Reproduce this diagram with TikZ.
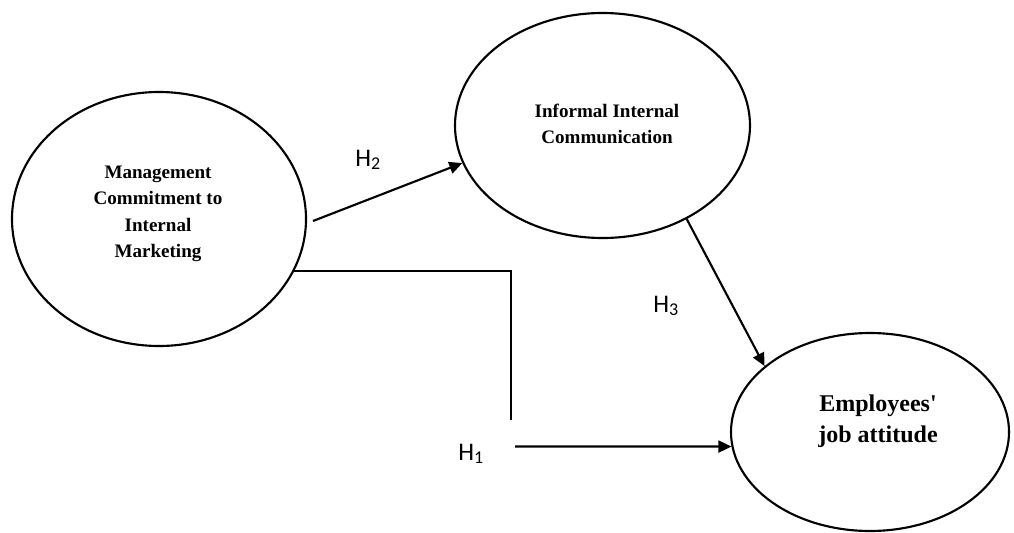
\documentclass[tikz,border=0pt]{standalone}
\usepackage{fontspec}
\setmainfont{Liberation Serif}
\newfontfamily\hfont{Carlito}
\usetikzlibrary{shapes.geometric,arrows.meta}
\newcommand\hyplabel[1]{H\raisebox{-2.5pt}{\fontsize{13.5}{13.5}\selectfont #1}}
\begin{document}
\begin{tikzpicture}[x=0.75pt,y=-0.75pt,
  construct/.style={draw, ellipse, line width=1.6pt, inner sep=0pt},
  ctext/.style={align=center, inner sep=0pt, font=\bfseries\fontsize{14.3}{19.9}\selectfont},
  btext/.style={align=center, inner sep=0pt, font=\bfseries\fontsize{18}{23.3}\selectfont},
  link/.style={line width=1.6pt, -{Triangle[length=9.75pt,width=9pt]}},
  plainlink/.style={line width=1.6pt},
  hyp/.style={font=\hfont\fontsize{19}{19}\selectfont, inner sep=0pt, anchor=base west}]
\useasboundingbox (0,0) rectangle (1014,532);
% constructs
\node[construct, minimum width=220.5pt, minimum height=190.5pt] (mc) at (159,219) {};
\node[construct, minimum width=221.25pt, minimum height=168.75pt] (ic) at (602.5,125.5) {};
\node[construct, minimum width=208.5pt, minimum height=148.5pt] (ej) at (870,432) {};
% texts
\node[ctext] (mct) at (158,214) {Management\\Commitment to\\Internal\\Marketing};
\node[ctext] (ict) at (607,124) {Informal Internal\\Communication};
\node[btext] (ejt) at (878,421) {Employees\textquotesingle\\job attitude};
% connector ends
\coordinate (h2s) at (313,221);
\coordinate (h1c) at (511,420);
\coordinate (h1s) at (515,446.5);
% connectors
\draw[link] (h2s) -- (ic.195);
\draw[link] (ic.-48.3) -- (ej.148.1);
\draw[plainlink] (mc.-21.6) -| (h1c);
\draw[link] (h1s) -- (ej.186);
% hypothesis labels
\node[hyp] (h2) at (355,166) {\hyplabel{2}};
\node[hyp] (h3) at (653,312) {\hyplabel{3}};
\node[hyp] (h1) at (458,460) {\hyplabel{1}};
\end{tikzpicture}
\end{document}
